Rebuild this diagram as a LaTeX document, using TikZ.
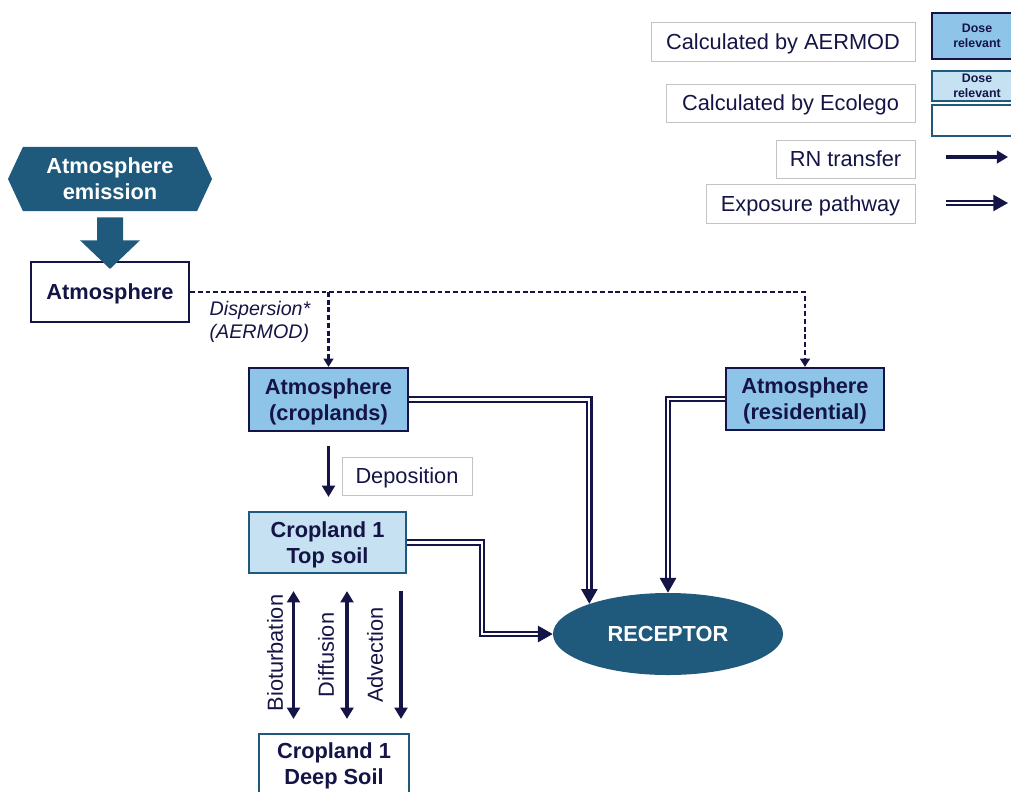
\documentclass[tikz,border=0pt]{standalone}
\usepackage{fontspec}
\setmainfont{Liberation Sans}
\usetikzlibrary{arrows.meta,shapes.symbols,shapes.geometric,calc}

\definecolor{navy}{RGB}{20,20,70}
\definecolor{deepteal}{RGB}{31,90,124}
\definecolor{midblue}{RGB}{142,196,232}
\definecolor{paleblue}{RGB}{197,225,242}
\definecolor{legendgray}{RGB}{195,195,195}

\tikzset{
  txt/.style={font=\fontsize{15.5}{18.5}\selectfont, text=navy, inner sep=0pt, text depth=0pt},
  boldtxt/.style={font=\fontsize{15.5}{18.5}\selectfont\bfseries, text=navy, align=center, inner sep=0pt, text depth=0pt},
  aermodbox/.style={boldtxt, draw=navy, line width=1.5pt, fill=midblue},
  ecobox/.style={boldtxt, draw=deepteal, line width=1.5pt, fill=paleblue},
  plainbox/.style={boldtxt, draw=deepteal, line width=1.5pt, fill=white},
  atmbox/.style={boldtxt, draw=navy, line width=1.5pt, fill=white},
  legendbox/.style={txt, draw=legendgray, line width=0.6pt, fill=white},
  dosefont/.style={font=\fontsize{8.8}{10.6}\selectfont\bfseries},
  rn/.style={draw=navy, line width=2.6pt, -{Triangle[width=9pt,length=8pt]}},
  rnboth/.style={draw=navy, line width=2.6pt, {Triangle[width=9pt,length=8pt]}-{Triangle[width=9pt,length=8pt]}},
  expo/.style={draw=navy, double=white, double distance=1.5pt, line width=1.5pt, -{Triangle[width=11.5pt,length=10.5pt]}},
  disp/.style={draw=navy, line width=1.6pt, dash pattern=on 3.5pt off 2pt, -{Triangle[width=7pt,length=6pt]}},
}

\begin{document}
\begin{tikzpicture}[x=0.025cm,y=-0.025cm]
    \useasboundingbox (0,0) rectangle (1011,791);

    % legend
    \node[legendbox, minimum width=6.6cm, minimum height=0.975cm] (lgaermod) at (783,41.5) {Calculated by AERMOD};
    \node[legendbox, minimum width=6.225cm, minimum height=0.95cm] (lgecolego) at (790.5,103) {Calculated by Ecolego};
    \node[legendbox, minimum width=3.475cm, minimum height=0.95cm] (lgrn) at (845.5,159) {RN transfer};
    \node[legendbox, minimum width=5.225cm, minimum height=0.975cm] (lgexpo) at (810.5,203.5) {Exposure pathway};
    \node[aermodbox, dosefont, minimum width=2.25cm, minimum height=1.15cm] (dosea) at (977,36) {Dose\\relevant};
    \node[ecobox, dosefont, minimum width=2.25cm, minimum height=0.75cm] (dosee) at (977,86) {Dose\\relevant};
    \node[plainbox, minimum width=2.25cm, minimum height=0.775cm] (nodose) at (977,120.5) {};
    \coordinate (rnA) at (946,157);
    \coordinate (rnB) at (1008,157);
    \draw[rn] (rnA) -- (rnB);
    \coordinate (exA) at (946,203);
    \coordinate (exB) at (1008,203);
    \draw[expo] (exA) -- (exB);

    % compartments
    \node[signal, signal to=west and east, signal pointer angle=130, fill=deepteal, text=white,
          font=\fontsize{15.5}{18.5}\selectfont\bfseries, align=center, inner sep=0pt, text depth=0pt,
          minimum width=5.1cm, minimum height=1.6cm] (emis) at (110,179) {Atmosphere\\emission};
    \node[atmbox, minimum width=3.95cm, minimum height=1.5cm] (atm) at (110,292) {Atmosphere};
    \node[aermodbox, minimum width=3.975cm, minimum height=1.575cm] (crop) at (328.5,399.5) {Atmosphere\\(croplands)};
    \node[aermodbox, minimum width=3.95cm, minimum height=1.55cm] (res) at (805,399) {Atmosphere\\(residential)};
    \node[ecobox, minimum width=3.925cm, minimum height=1.525cm] (top) at (327.5,542.5) {Cropland 1\\Top soil};
    \node[plainbox, minimum width=3.75cm, minimum height=1.5cm] (deep) at (334,764) {Cropland 1\\Deep Soil};
    \node[ellipse, fill=deepteal, text=white, font=\fontsize{15.5}{18.5}\selectfont\bfseries, inner sep=0pt,
          minimum width=5.75cm, minimum height=2.05cm] (rec) at (668,634) {RECEPTOR};

    % emission arrow
    \fill[deepteal] ($(emis.south)+(-13,6)$) -- ++(26,0) -- ++(0,23) -- ++(17,0)
        -- ($(atm.north)+(0,8)$) -- ($(emis.south)+(-30,29)$) -- ++(17,0) -- cycle;

    % dispersion
    \draw[disp] (atm.east) -| (res.north);
    \coordinate (split) at (crop.north |- atm.east);
    \draw[disp] (split) -- (crop.north);
    \node[txt, font=\fontsize{14}{16}\selectfont\itshape, align=left] (displbl) at (260,320) {Dispersion*\\(AERMOD)};

    % deposition
    \draw[rn, shorten <=0.35cm, shorten >=0.35cm] (crop.south) -- (crop.south |- top.north);
    \node[legendbox, minimum width=3.25cm, minimum height=0.95cm] (deplbl) at (407,476) {Deposition};

    % soil transfers
    \draw[rnboth, shorten <=0.425cm, shorten >=0.35cm] ($(top.south)+(-34,0)$) -- ($(top.south |- deep.north)+(-34,0)$);
    \draw[rnboth, shorten <=0.425cm, shorten >=0.35cm] ($(top.south)+(19.5,0)$) -- ($(top.south |- deep.north)+(19.5,0)$);
    \draw[rn, shorten <=0.425cm, shorten >=0.35cm] ($(top.south)+(73.5,0)$) -- ($(top.south |- deep.north)+(73.5,0)$);
    \node[txt, rotate=90] (bio) at (275,653) {Bioturbation};
    \node[txt, rotate=90] (dif) at (326,655) {Diffusion};
    \node[txt, rotate=90] (adv) at (375,655) {Advection};

    % exposure pathways
    \draw[expo] (crop.east) -| (rec.159);
    \draw[expo] (res.west) -| (rec.north);
    \draw[expo] (top.east) -- ++(75,0) |- (rec.west);
\end{tikzpicture}
\end{document}
